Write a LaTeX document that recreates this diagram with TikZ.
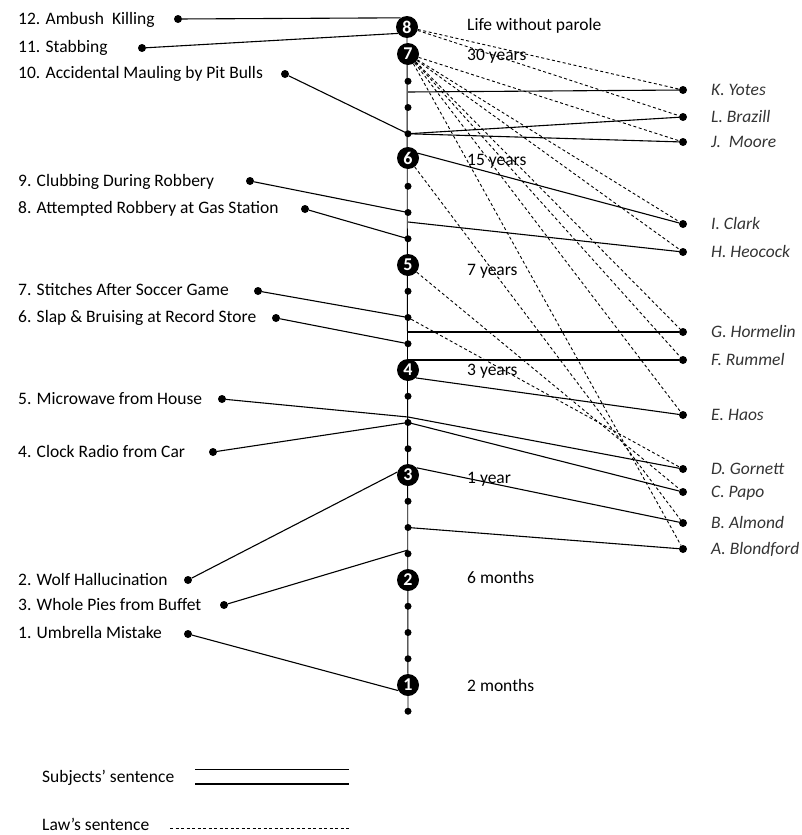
\documentclass[tikz,border=0pt]{standalone}
\usepackage{fontspec}
\setmainfont{Carlito}
\usetikzlibrary{backgrounds}
\begin{document}
\begin{tikzpicture}[x=1pt,y=-1pt,
  lbl/.style={anchor=base west, inner sep=0pt, font=\fontsize{17.5}{19}\selectfont},
  nm/.style={anchor=base west, inner sep=0pt, font=\fontsize{17.5}{19}\selectfont\itshape, text=black!80},
  lvl/.style={anchor=base west, inner sep=0pt, font=\fontsize{17.5}{19}\selectfont},
  num/.style={circle, fill=black, text=white, inner sep=0pt, minimum size=22pt, font=\fontsize{18}{18}\selectfont\bfseries},
  adot/.style={circle, fill=black, inner sep=0pt, minimum size=7pt},
  pdot/.style={circle, fill=black, inner sep=0pt, minimum size=8pt},
  subj/.style={line width=1.1pt},
  law/.style={line width=0.9pt, dash pattern=on 3pt off 2.5pt},
]
\useasboundingbox (0,0) rectangle (802,835);

% ---- axis circles
\node[num] (c8) at (407,27) {8};
\node[num] (c7) at (408,54) {7};
\node[num] (c6) at (408,158) {6};
\node[num] (c5) at (408,265) {5};
\node[num] (c4) at (408,370) {4};
\node[num] (c3) at (408,475) {3};
\node[num] (c2) at (408,580) {2};
\node[num] (c1) at (408,685) {1};
% ---- axis dots
\foreach \k in {-1,1,2,3,5,6,7,9,10,11,13,14,15,17,18,19,21,22,23}{
  \node[adot] (a\k) at (408,{685-26.25*\k}) {};
}
% ---- axis points without dots
\coordinate (pY) at (408,92);
\coordinate (pH) at (408,222);
\coordinate (pG) at (408,332);
\coordinate (pF) at (408,360);
\coordinate (pM) at (408,417);
\coordinate (pP) at (408,550);

% ---- level labels
\node[lvl] (l8) at (467,30.5) {Life without parole};
\node[lvl] (l7) at (467,60.5) {30 years};
\node[lvl] (l6) at (467,165.5) {15 years};
\node[lvl] (l5) at (467,275.5) {7 years};
\node[lvl] (l4) at (467,375.5) {3 years};
\node[lvl] (l3) at (467,483.5) {1 year};
\node[lvl] (l2) at (467,583.5) {6 months};
\node[lvl] (l1) at (467,691.5) {2 months};

% ---- crimes (left)
\node[lbl] (t12) at (18,24.5) {12. Ambush\ \ Killing};
\node[lbl] (t11) at (18,52.5) {11. Stabbing};
\node[lbl] (t10) at (18,78.5) {10. Accidental Mauling by Pit Bulls};
\node[lbl] (t9) at (18,186.5) {9. Clubbing During Robbery};
\node[lbl] (t8) at (18,213.5) {8. Attempted Robbery at Gas Station};
\node[lbl] (t7) at (18,295.5) {7. Stitches After Soccer Game};
\node[lbl] (t6) at (18,322.5) {6. Slap \& Bruising at Record Store};
\node[lbl] (t5) at (18,404.5) {5. Microwave from House};
\node[lbl] (t4) at (18,457.5) {4. Clock Radio from Car};
\node[lbl] (t2) at (18,585.5) {2. Wolf Hallucination};
\node[lbl] (t3) at (18,610.5) {3. Whole Pies from Buffet};
\node[lbl] (t1) at (18,638.5) {1. Umbrella Mistake};

\node[pdot] (d12) at (178,19) {};
\node[pdot] (d11) at (142,48) {};
\node[pdot] (d10) at (285,74) {};
\node[pdot] (d9) at (250,181) {};
\node[pdot] (d8) at (305,209) {};
\node[pdot] (d7) at (258,291) {};
\node[pdot] (d6) at (276,318) {};
\node[pdot] (d5) at (222,399) {};
\node[pdot] (d4) at (213,452) {};
\node[pdot] (d2) at (188,580) {};
\node[pdot] (d3) at (224,605) {};
\node[pdot] (d1) at (188,634) {};

% ---- subjects (right)
\node[pdot] (rK) at (683,90) {};
\node[pdot] (rL) at (683,117) {};
\node[pdot] (rJ) at (683,142) {};
\node[pdot] (rI) at (683,224) {};
\node[pdot] (rH) at (683,252) {};
\node[pdot] (rG) at (683,332) {};
\node[pdot] (rF) at (683,360) {};
\node[pdot] (rE) at (683,415) {};
\node[pdot] (rD) at (683,469) {};
\node[pdot] (rC) at (683,492) {};
\node[pdot] (rB) at (683,523) {};
\node[pdot] (rA) at (683,549) {};

\node[nm] (nK) at (711,95.5) {K. Yotes};
\node[nm] (nL) at (711,122.5) {L. Brazill};
\node[nm] (nJ) at (711,147.5) {J.\ \ Moore};
\node[nm] (nI) at (711,229.5) {I. Clark};
\node[nm] (nH) at (711,257.5) {H. Heocock};
\node[nm] (nG) at (711,337.5) {G. Hormelin};
\node[nm] (nF) at (711,365.5) {F. Rummel};
\node[nm] (nE) at (711,420.5) {E. Haos};
\node[nm] (nD) at (711,474.5) {D. Gornett};
\node[nm] (nC) at (711,497.5) {C. Papo};
\node[nm] (nB) at (711,528.5) {B. Almond};
\node[nm] (nA) at (711,554.5) {A. Blondford};

\begin{pgfonlayer}{background}
  \draw[line width=0.9pt] (c8.center) -- (a-1.center);
  % subjects' sentences (solid)
  \draw[subj] (d12) -- (c8.125);
  \draw[subj] (d11) -- (c8.215);
  \draw[subj] (d10) -- (a21.center);
  \draw[subj] (d9) -- (a18.center);
  \draw[subj] (d8) -- (a17.center);
  \draw[subj] (d7) -- (a14.center);
  \draw[subj] (d6) -- (a13.center);
  \draw[subj] (d5) -- (pM) -- (rD);
  \draw[subj] (d4) -- (a10.center) -- (rC);
  \draw[subj] (d2) -- (c3.165);
  \draw[subj] (d3) -- (pP);
  \draw[subj] (d1) -- (c1.210);
  \draw[subj] (pY) -- (rK);
  \draw[subj] (a21.center) -- (rL);
  \draw[subj] (a21.center) -- (rJ);
  \draw[subj] (c6.25) -- (rI);
  \draw[subj] (pH) -- (rH);
  \draw[subj] (pG) -- (rG);
  \draw[subj] (pF) -- (rF);
  \draw[subj] (c4.-45) -- (rE);
  \draw[subj] (c3.40) -- (rB);
  \draw[subj] (a6.center) -- (rA);
  % law's sentences (dashed)
  \draw[law] (c8) -- (rK);
  \draw[law] (c8) -- (rL);
  \draw[law] (c7) -- (rJ);
  \draw[law] (c7) -- (rI);
  \draw[law] (c7) -- (rH);
  \draw[law] (c7) -- (rG);
  \draw[law] (c7) -- (rF);
  \draw[law] (c7) -- (rE);
  \draw[law] (c7) -- (rA);
  \draw[law] (c6) -- (rB);
  \draw[law] (c5) -- (rC);
  \draw[law] (a14) -- (rD);
\end{pgfonlayer}

% ---- legend
\node[lbl] (ls) at (42,782) {Subjects' sentence};
\node[lbl] (ll) at (42,830) {Law's sentence};
\coordinate (s1a) at (195,769);
\coordinate (s1b) at (349,769);
\coordinate (s2a) at (195,784);
\coordinate (s2b) at (349,784);
\draw[line width=1pt] (s1a) -- (s1b);
\draw[line width=1.2pt] (s2a) -- (s2b);
\coordinate (lla) at (170,828);
\coordinate (llb) at (349,828);
\draw[law] (lla) -- (llb);
\end{tikzpicture}
\end{document}
